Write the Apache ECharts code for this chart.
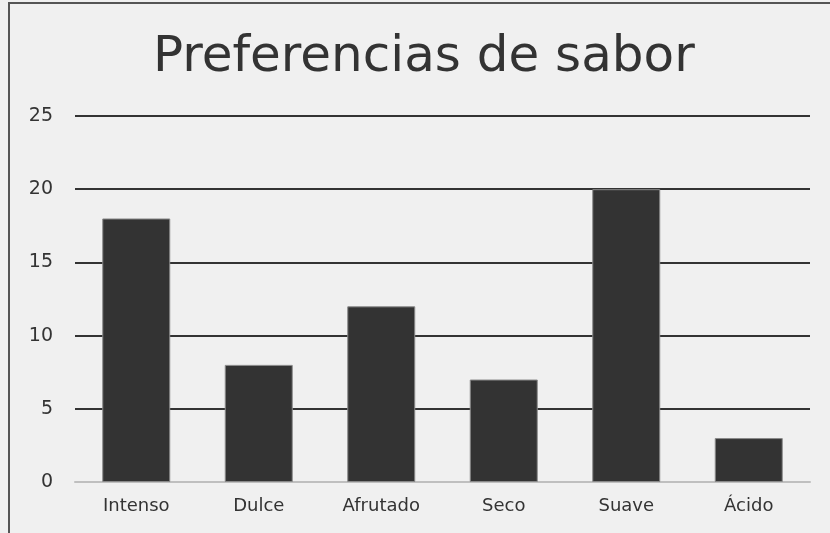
<!DOCTYPE html>
<html>
<head>
<meta charset="utf-8">
<script src="https://cdn.jsdelivr.net/npm/echarts@6/dist/echarts.min.js"></script>
<style>html,body{margin:0;padding:0;background:#f0f0f0;}#c{width:830px;height:533px;}</style>
</head>
<body>
<div id="c"></div>
<script>
const title = 'Preferencias de sabor';
const categories = ['Intenso', 'Dulce', 'Afrutado', 'Seco', 'Suave', 'Ácido'];
const values = [18, 8, 12, 7, 20, 3];
const yTicks = [0, 5, 10, 15, 20, 25];

const FONT = 'DejaVu Sans';
const chart = echarts.init(document.getElementById('c'), null, {renderer: 'canvas'});
chart.setOption({
  backgroundColor: '#f0f0f0',
  animation: false,
  title: {
    text: title, left: 148, top: 28,
    textStyle: {fontFamily: FONT, fontSize: 50, fontWeight: 'normal', color: '#333'}
  },
  graphic: [{
    type: 'rect', shape: {x: 9, y: 3, width: 900, height: 600},
    style: {fill: 'none', stroke: '#555', lineWidth: 2}, silent: true
  }],
  grid: {left: 75, right: 20, top: 116, bottom: 51},
  yAxis: {
    type: 'value', min: yTicks[0], max: yTicks[yTicks.length - 1], interval: 5,
    axisLine: {show: false}, axisTick: {show: false},
    axisLabel: {margin: 22, fontFamily: FONT, fontSize: 19, color: '#333'},
    splitLine: {lineStyle: {color: '#333', width: 2}}
  },
  xAxis: {
    type: 'category', data: categories,
    axisLine: {lineStyle: {color: '#bfbfbf', width: 2}}, axisTick: {show: false},
    axisLabel: {margin: 15, fontFamily: FONT, fontSize: 18, color: '#333'}
  },
  series: [{
    type: 'bar', data: values, barWidth: 68,
    itemStyle: {color: '#333', borderColor: '#8a8a8a', borderWidth: 1}
  }]
});
</script>
</body>
</html>
